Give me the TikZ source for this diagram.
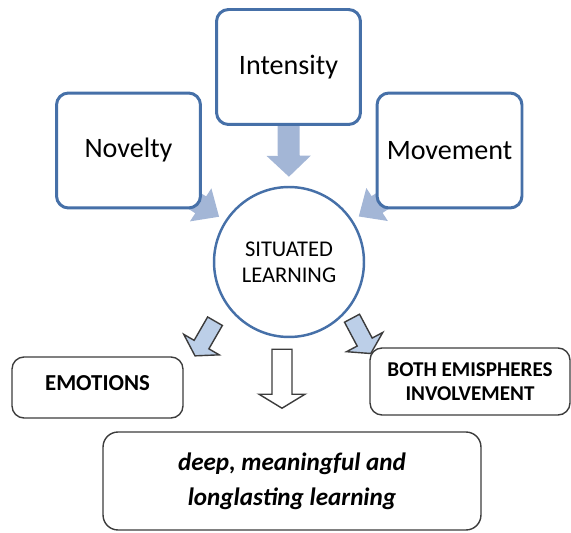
\documentclass[tikz,border=0pt]{standalone}
\usepackage{fontspec}
\setmainfont{Carlito}
\usetikzlibrary{calc, positioning, arrows.meta, backgrounds}

\definecolor{boxblue}{RGB}{70,112,168}
\definecolor{arrowblue}{RGB}{163,182,214}
\definecolor{lightblue}{RGB}{188,207,232}
\definecolor{edgegray}{RGB}{60,60,60}

\tikzset{
  factor/.style={draw=boxblue, line width=1.7pt, rounded corners=0.24cm, fill=white,
    minimum width=2.88cm, minimum height=2.3cm, font=\fontsize{16}{19}\selectfont},
  hub/.style={circle, draw=boxblue, line width=1.4pt, fill=white, minimum size=3cm,
    align=center, font=\fontsize{12.8}{14.8}\selectfont},
  outcome/.style={draw=edgegray, line width=0.8pt, rounded corners=0.24cm, fill=white,
    align=center, font=\bfseries\fontsize{12}{13.5}\selectfont},
  fatarrow/.style={draw=arrowblue, line width=0.44cm, -{Triangle[length=0.42cm, width=0.86cm]}},
  pics/blockarrow/.style n args={4}{code={
    \draw[pic actions] (0,-#3) -- (#1-#2,-#3) -- (#1-#2,-#4) -- (#1,0)
      -- (#1-#2,#4) -- (#1-#2,#3) -- (0,#3) -- cycle;
  }}
}

\begin{document}
\begin{tikzpicture}[x=0.02cm, y=0.02cm]
  \useasboundingbox (0,0) rectangle (571,-533);

  % three factors round the hub
  \node[factor] (intensity) at (288.5,-67) {Intensity};
  \node[factor] (novelty) at (128.5,-150.5) {Novelty};
  \node[factor, minimum width=2.9cm] (movement) at (449.5,-150.5) {Movement};
  \node[hub] (situated) at (289,-262) {SITUATED\\LEARNING};

  % outcomes
  \node[outcome, minimum width=3.42cm, minimum height=1.22cm, font=\bfseries\fontsize{13}{14}\selectfont] (emotions) at (97.5,-387.5) {\raisebox{5pt}{EMOTIONS}};
  \node[outcome, minimum width=4cm, minimum height=1.34cm] (emispheres) at (470,-381.5) {BOTH EMISPHERES\\INVOLVEMENT};
  \node[outcome, minimum width=7.56cm, minimum height=1.96cm, rounded corners=0.3cm,
        font=\bfseries\itshape\fontsize{14.3}{20}\selectfont] (deep) at (292,-481) {deep, meaningful and\\longlasting learning};

  % blue arrows into the hub (tails hidden under the boxes)
  \coordinate (novtail) at (170,-185);
  \coordinate (movtail) at (407,-185);
  \begin{scope}[on background layer]
    \draw[fatarrow, shorten >=0.18cm] (intensity.south) -- (situated.north);
    \draw[fatarrow, line width=0.4cm, -{Triangle[length=0.44cm, width=0.76cm]}, shorten >=0.14cm] (novtail) -- (situated);
    \draw[fatarrow, line width=0.4cm, -{Triangle[length=0.44cm, width=0.76cm]}, shorten >=0.14cm] (movtail) -- (situated);
  \end{scope}

  % small arrows out of the hub
  \coordinate (emotail) at ($(situated.south)+(-74,17)$);
  \coordinate (emitail) at ($(situated.south)+(63,20)$);
  \coordinate (deeptail) at ($(situated.south)+(-7,-11)$);
  \pic[draw=edgegray, fill=lightblue, line width=0.8pt, rotate=240] at (emotail) {blockarrow={40}{13}{8.5}{20.5}};
  \pic[draw=edgegray, fill=lightblue, line width=0.8pt, rotate=-62] at (emitail) {blockarrow={40}{13}{8.5}{20.5}};
  \pic[draw=edgegray, fill=white, line width=0.8pt, rotate=-90] at (deeptail) {blockarrow={59}{14}{10}{23}};
\end{tikzpicture}
\end{document}
